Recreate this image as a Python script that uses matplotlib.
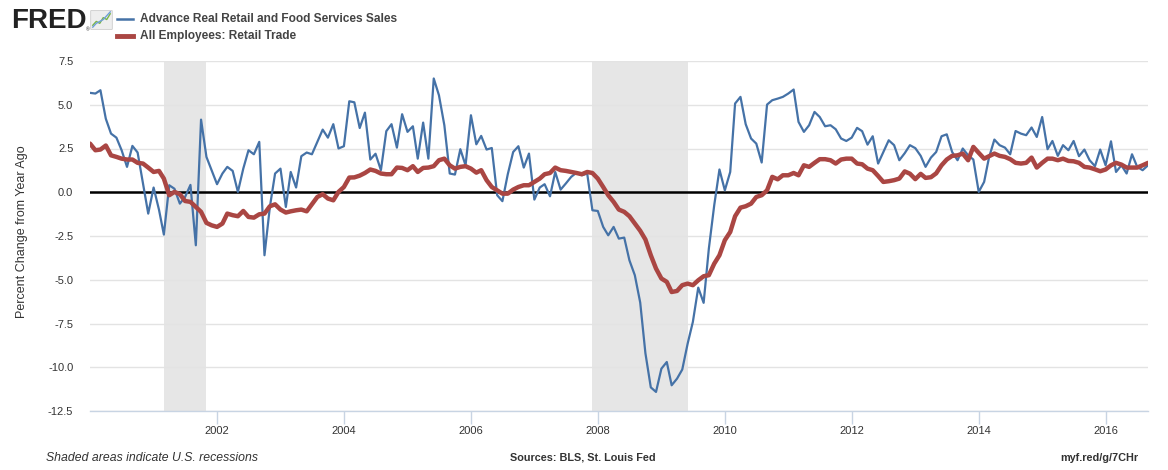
import numpy as np
import pandas as pd
import matplotlib
matplotlib.use('Agg')
import matplotlib.pyplot as plt
import matplotlib.dates as mdates
from matplotlib.lines import Line2D
from matplotlib.patches import FancyBboxPatch

# Monthly data, Jan 2000 - Sep 2016, percent change from year ago
start = '2000-01-01'

# Advance Real Retail and Food Services Sales
retail_sales = [
    5.68, 5.64, 5.83, 4.20, 3.35, 3.12, 2.40, 1.45, 2.65, 2.27, 0.50, -1.22,
    0.27, -1.00, -2.42, 0.40, 0.20, -0.65, -0.27, 0.42, -3.03, 4.15, 2.02, 1.26,
    0.46, 1.07, 1.45, 1.22, 0.02, 1.35, 2.40, 2.17, 2.88, -3.60, -0.84, 1.07,
    1.35, -0.84, 1.16, 0.27, 2.06, 2.27, 2.17, 2.88, 3.58, 3.12, 3.89, 2.50,
    2.63, 5.20, 5.14, 3.67, 4.55, 1.87, 2.20, 1.26, 3.49, 3.89, 2.55, 4.46,
    3.45, 3.77, 1.92, 3.98, 1.92, 6.50, 5.54, 3.83, 1.07, 1.01, 2.46, 1.54,
    4.40, 2.74, 3.22, 2.44, 2.53, -0.17, -0.51, 1.03, 2.30, 2.63, 1.41, 2.21,
    -0.42, 0.27, 0.46, -0.23, 1.16, 0.15, 0.50, 0.88, 1.12, 0.97, 1.07, -1.03,
    -1.07, -1.98, -2.46, -1.98, -2.65, -2.59, -3.89, -4.74, -6.30, -9.20, -11.15, -11.41,
    -10.08, -9.70, -11.03, -10.65, -10.13, -8.65, -7.41, -5.45, -6.32, -3.22, -0.74, 1.30,
    0.11, 1.16, 5.07, 5.45, 3.89, 3.07, 2.78, 1.70, 5.01, 5.26, 5.35, 5.45,
    5.64, 5.87, 4.02, 3.45, 3.83, 4.59, 4.30, 3.77, 3.83, 3.60, 3.07, 2.93,
    3.12, 3.68, 3.49, 2.72, 3.20, 1.64, 2.30, 2.97, 2.69, 1.83, 2.23, 2.69,
    2.52, 2.08, 1.45, 1.98, 2.30, 3.20, 3.31, 2.30, 1.83, 2.50, 2.11, 1.87,
    0.02, 0.59, 1.98, 3.01, 2.69, 2.55, 2.17, 3.50, 3.35, 3.26, 3.70, 3.16,
    4.30, 2.46, 2.93, 2.08, 2.69, 2.40, 2.93, 2.06, 2.44, 1.83, 1.49, 2.44,
    1.54, 2.91, 1.16, 1.54, 1.07, 2.17, 1.45, 1.26, 1.54,
]

# All Employees: Retail Trade
retail_jobs = [
    2.78, 2.40, 2.44, 2.67, 2.11, 2.02, 1.92, 1.87, 1.87, 1.68, 1.64, 1.41,
    1.16, 1.22, 0.78, -0.17, 0.02, -0.11, -0.50, -0.55, -0.84, -1.12, -1.75, -1.89,
    -1.98, -1.79, -1.22, -1.31, -1.37, -1.07, -1.41, -1.45, -1.26, -1.22, -0.80, -0.69,
    -0.99, -1.16, -1.09, -1.03, -0.99, -1.09, -0.69, -0.27, -0.11, -0.36, -0.46, 0.02,
    0.30, 0.84, 0.85, 0.95, 1.10, 1.30, 1.22, 1.07, 1.03, 1.03, 1.41, 1.39,
    1.26, 1.49, 1.16, 1.39, 1.41, 1.49, 1.83, 1.92, 1.54, 1.35, 1.45, 1.49,
    1.35, 1.12, 1.26, 0.69, 0.30, 0.11, -0.08, -0.08, 0.15, 0.30, 0.40, 0.40,
    0.59, 0.78, 1.03, 1.10, 1.41, 1.26, 1.22, 1.16, 1.10, 1.03, 1.16, 1.10,
    0.78, 0.30, -0.17, -0.55, -0.99, -1.12, -1.37, -1.79, -2.20, -2.70, -3.60, -4.36,
    -4.93, -5.12, -5.70, -5.64, -5.31, -5.22, -5.31, -5.03, -4.80, -4.74, -4.08, -3.60,
    -2.74, -2.27, -1.37, -0.88, -0.80, -0.65, -0.27, -0.17, 0.11, 0.88, 0.74, 0.97,
    0.97, 1.10, 0.97, 1.54, 1.45, 1.68, 1.89, 1.89, 1.83, 1.64, 1.87, 1.92,
    1.92, 1.64, 1.60, 1.35, 1.26, 0.93, 0.59, 0.63, 0.69, 0.78, 1.19, 1.06,
    0.75, 1.05, 0.82, 0.86, 1.08, 1.54, 1.87, 2.08, 2.11, 2.21, 1.83, 2.59,
    2.25, 1.92, 2.06, 2.21, 2.08, 2.02, 1.89, 1.68, 1.64, 1.68, 1.98, 1.41,
    1.68, 1.92, 1.92, 1.83, 1.92, 1.79, 1.77, 1.68, 1.45, 1.41, 1.31, 1.20,
    1.30, 1.54, 1.68, 1.58, 1.41, 1.41, 1.41, 1.54, 1.68,
]

recessions = [('2001-03-01', '2001-11-01'), ('2007-12-01', '2009-06-01')]
y_ticks = [-12.5, -10.0, -7.5, -5.0, -2.5, 0.0, 2.5, 5.0, 7.5]
x_years = [2002, 2004, 2006, 2008, 2010, 2012, 2014, 2016]

# little FRED logo graph
icon_green = [1, 3, 2, 5, 4, 7]
icon_blue = [0, 2, 3, 4, 6, 8]

dates = pd.date_range(start, periods=len(retail_sales), freq='MS')

blue = '#4572a7'
red = '#aa4643'
axis_col = '#c8d4e3'
text_col = '#333333'

plt.rcParams['font.family'] = ['Liberation Sans', 'DejaVu Sans']

fig = plt.figure(figsize=(11.68, 4.70), dpi=100)
ax = fig.add_axes([90 / 1168, 59 / 470, 1058 / 1168, 350 / 470])

for a, b in recessions:
    ax.axvspan(pd.Timestamp(a), pd.Timestamp(b), color='#e6e6e6', lw=0, zorder=0)

ax.plot(dates, retail_sales, color=blue, lw=1.6, zorder=3)
ax.plot(dates, retail_jobs, color=red, lw=3.2, zorder=4, solid_capstyle='round')
ax.axhline(0, color='black', lw=1.8, zorder=2)

ax.set_xlim(dates[0], dates[-1])
ax.set_ylim(-12.5, 7.5)
ax.set_yticks(y_ticks)
ax.set_yticklabels(['%.1f' % v for v in y_ticks])
ax.grid(axis='y', color='#e3e3e3', lw=1, zorder=1)
ax.set_xticks([pd.Timestamp('%d-01-01' % y) for y in x_years])
ax.xaxis.set_major_formatter(mdates.DateFormatter('%Y'))

for s in ['top', 'right', 'left']:
    ax.spines[s].set_visible(False)
ax.spines['bottom'].set_color(axis_col)
ax.spines['bottom'].set_linewidth(1)
ax.tick_params(axis='x', length=9, color=axis_col, width=1, pad=2,
               labelsize=8, labelcolor=text_col)
ax.tick_params(axis='y', length=0, pad=12, labelsize=8, labelcolor=text_col)

fig.text(22 / 1168, 1 - 232 / 470, 'Percent Change from Year Ago', rotation=90,
         ha='center', va='center', fontsize=9, color=text_col)

# header: logo and legend
fig.text(11 / 1168, 1 - 21 / 470, 'FRED', fontsize=20, fontweight='bold',
         color='#222222', va='center', ha='left')
fig.text(86 / 1168, 1 - 30 / 470, '\u00ae', fontsize=3.5, color='#222222', va='center')
icon = fig.add_axes([90 / 1168, 1 - 30 / 470, 23 / 1168, 20 / 470])
icon.add_patch(FancyBboxPatch((0.05, 0.05), 0.9, 0.9, boxstyle='round,pad=0.02',
                              transform=icon.transAxes, fc='#eeeeee', ec='#cccccc', lw=0.6))
icon.plot(np.arange(len(icon_green)), icon_green, color='#7ab648', lw=1)
icon.plot(np.arange(len(icon_blue)), icon_blue, color='#6f9fd8', lw=1)
icon.set_xlim(-0.8, len(icon_green) - 0.2)
icon.set_ylim(-1.5, 9)
icon.axis('off')

fig.add_artist(Line2D([117 / 1168, 133 / 1168], [1 - 19 / 470] * 2, color=blue, lw=1.8))
fig.add_artist(Line2D([117 / 1168, 133 / 1168], [1 - 36 / 470] * 2, color=red, lw=3.5))
fig.text(140 / 1168, 1 - 19 / 470, 'Advance Real Retail and Food Services Sales',
         fontsize=8.6, fontweight='bold', color='#444444', va='center')
fig.text(140 / 1168, 1 - 36 / 470, 'All Employees: Retail Trade',
         fontsize=8.6, fontweight='bold', color='#444444', va='center')

# footer
fig.text(46 / 1168, 1 - 458 / 470, 'Shaded areas indicate U.S. recessions',
         fontsize=8.8, style='italic', color=text_col, va='center')
fig.text(583 / 1168, 1 - 458 / 470, 'Sources: BLS, St. Louis Fed',
         fontsize=7.8, fontweight='bold', color=text_col, va='center', ha='center')
fig.text(1138 / 1168, 1 - 458 / 470, 'myf.red/g/7CHr',
         fontsize=7.8, fontweight='bold', color=text_col, va='center', ha='right')

fig.savefig('out.png', dpi=100)
